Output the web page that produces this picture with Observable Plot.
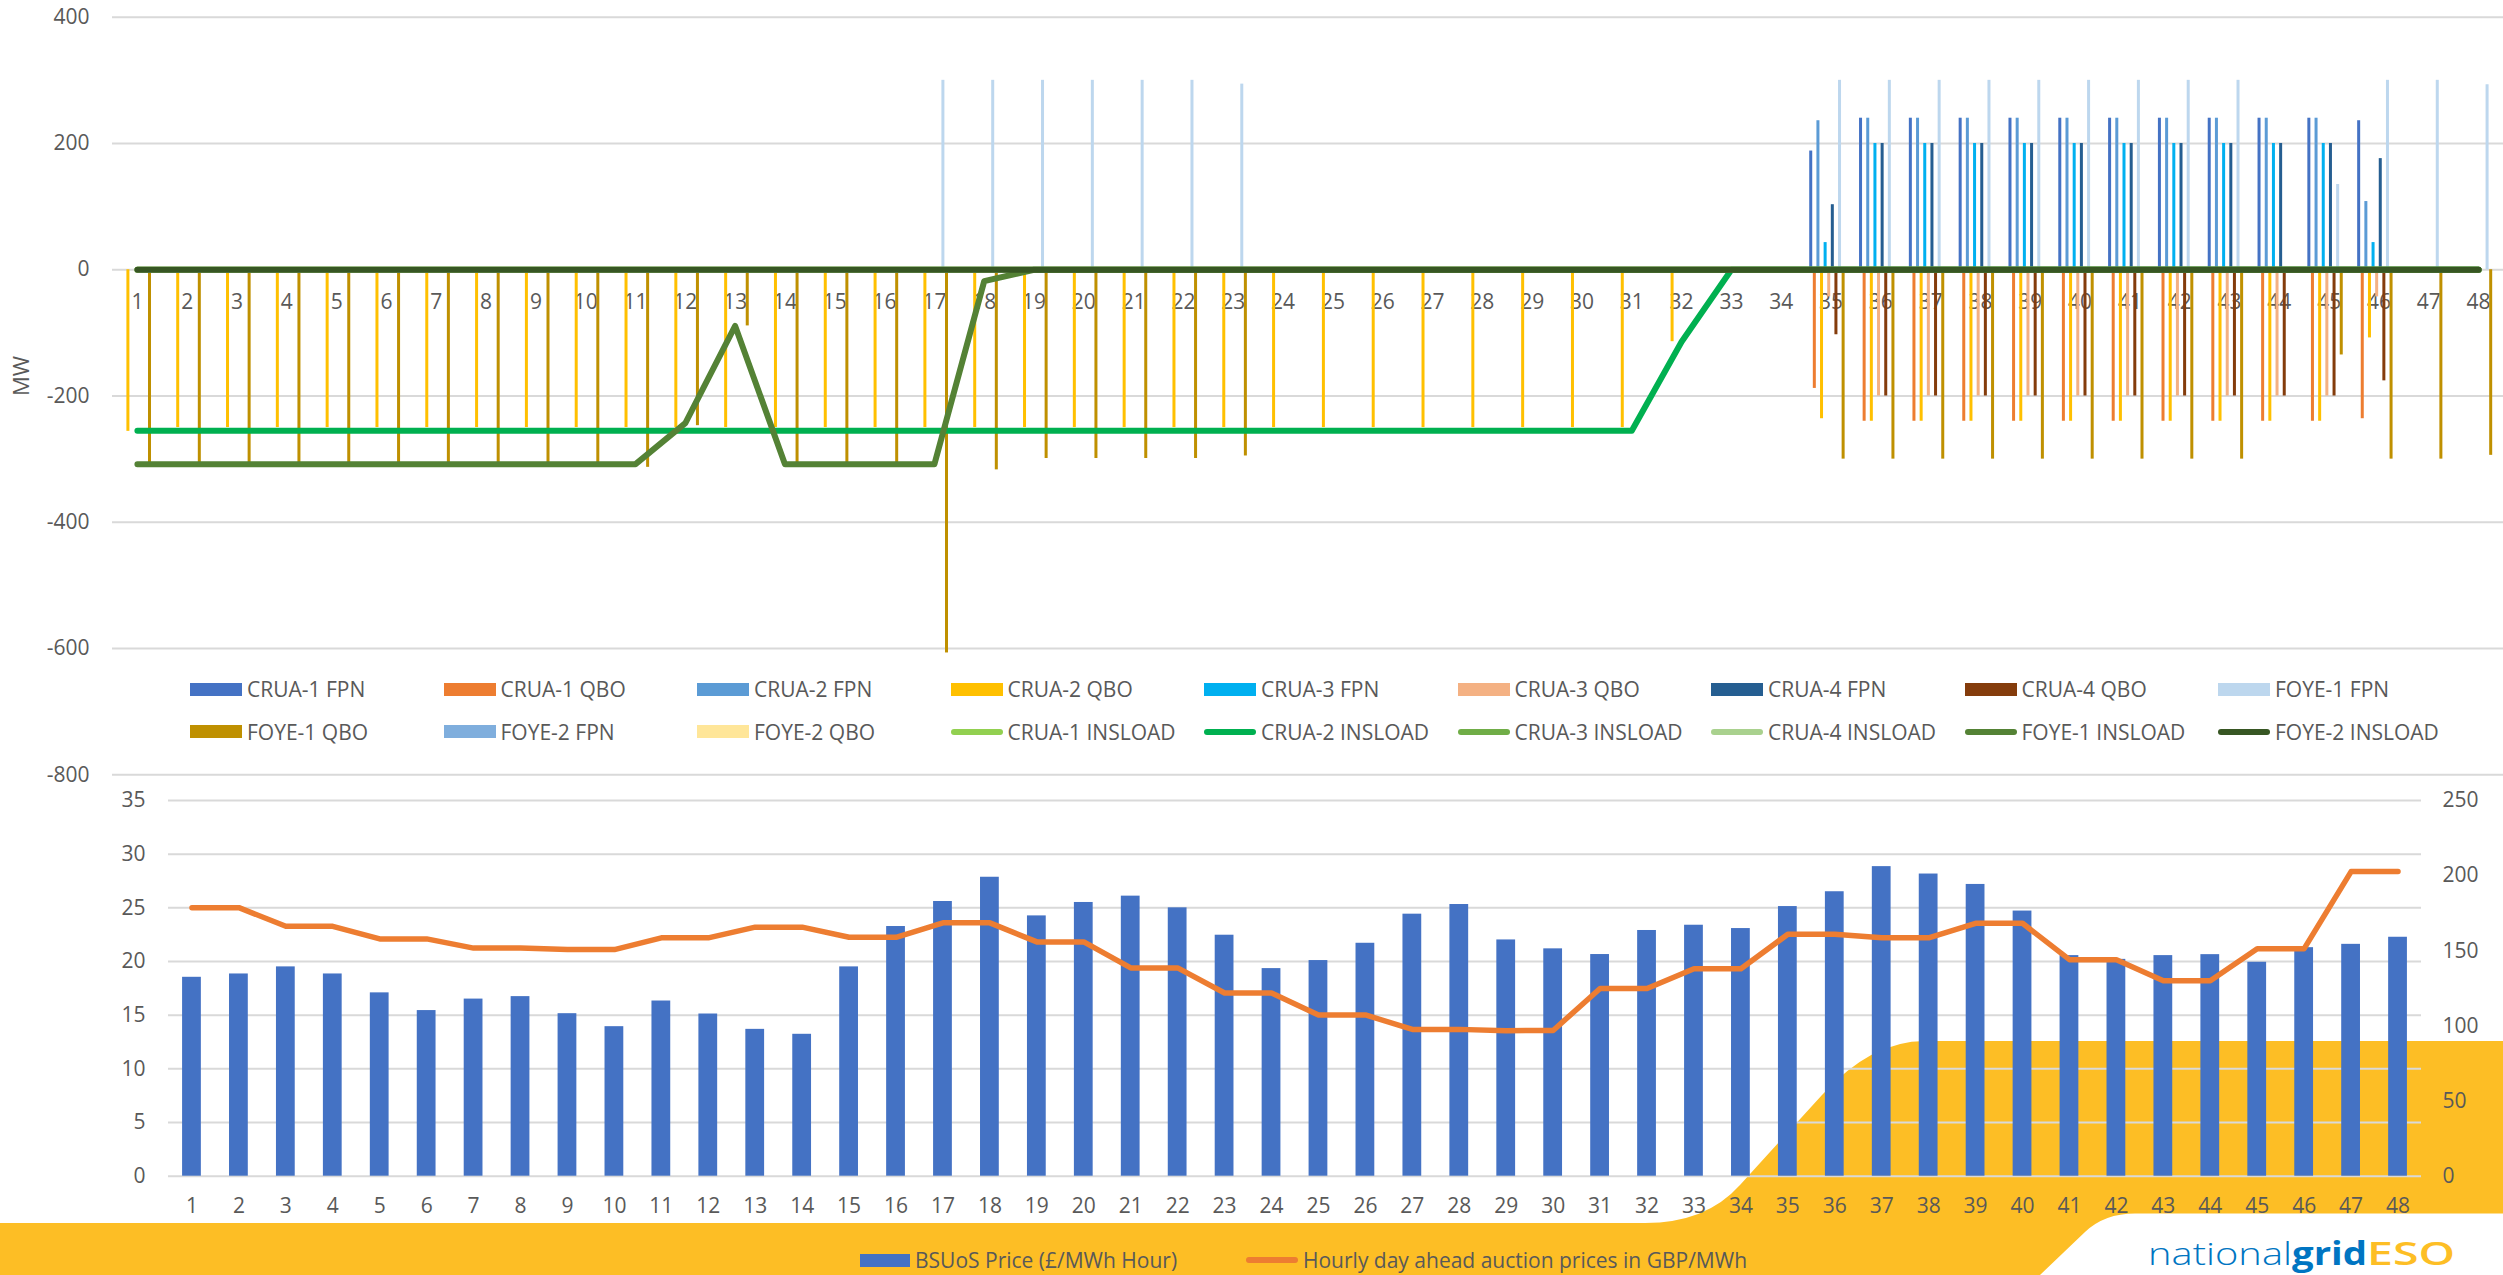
<!DOCTYPE html>
<html><head><meta charset="utf-8">
<script src="https://cdn.jsdelivr.net/npm/d3@7"></script>
<script src="https://cdn.jsdelivr.net/npm/@observablehq/plot@0.6"></script>
<style>
html,body{margin:0;padding:0;background:#fff;}
#root{position:relative;width:2503px;height:1275px;overflow:hidden;font-family:"Open Sans",sans-serif;}
#root svg{position:absolute;left:0;}
.leg{position:absolute;height:30px;display:flex;align-items:center;font-size:21px;color:#595959;white-space:nowrap;line-height:30px;}
.leg .sw{flex:none;margin-right:5px;}
</style></head><body><div id="root"></div>
<script>
// ---------- categories & ticks ----------
const periods = [1,2,3,4,5,6,7,8,9,10,11,12,13,14,15,16,17,18,19,20,21,22,23,24,25,26,27,28,29,30,31,32,33,34,35,36,37,38,39,40,41,42,43,44,45,46,47,48];
const mwTicks = [-800,-600,-400,-200,0,200,400];
const priceTicks = [0,5,10,15,20,25,30,35];
const dayAheadTicks = [0,50,100,150,200,250];

// ---------- top chart series (MW) ----------
const crua1Fpn = [0,0,0,0,0,0,0,0,0,0,0,0,0,0,0,0,0,0,0,0,0,0,0,0,0,0,0,0,0,0,0,0,0,0,188,240,240,240,240,240,240,240,240,240,240,236,0,0];
const crua1Qbo = [0,0,0,0,0,0,0,0,0,0,0,0,0,0,0,0,0,0,0,0,0,0,0,0,0,0,0,0,0,0,0,0,0,0,-188,-240,-240,-240,-240,-240,-240,-240,-240,-240,-240,-236,0,0];
const crua2Fpn = [0,0,0,0,0,0,0,0,0,0,0,0,0,0,0,0,0,0,0,0,0,0,0,0,0,0,0,0,0,0,0,0,0,0,236,240,240,240,240,240,240,240,240,240,240,108,0,0];
const crua2Qbo = [-256,-250,-250,-250,-250,-250,-250,-250,-250,-250,-250,-250,-250,-250,-250,-250,-250,-250,-250,-250,-250,-250,-250,-250,-250,-250,-250,-250,-250,-250,-250,-114,0,0,-236,-240,-240,-240,-240,-240,-240,-240,-240,-240,-240,-108,0,0];
const crua3Fpn = [0,0,0,0,0,0,0,0,0,0,0,0,0,0,0,0,0,0,0,0,0,0,0,0,0,0,0,0,0,0,0,0,0,0,43,200,200,200,200,200,200,200,200,200,200,43,0,0];
const crua3Qbo = [0,0,0,0,0,0,0,0,0,0,0,0,0,0,0,0,0,0,0,0,0,0,0,0,0,0,0,0,0,0,0,0,0,0,-43,-200,-200,-200,-200,-200,-200,-200,-200,-200,-200,-43,0,0];
const crua4Fpn = [0,0,0,0,0,0,0,0,0,0,0,0,0,0,0,0,0,0,0,0,0,0,0,0,0,0,0,0,0,0,0,0,0,0,103,200,200,200,200,200,200,200,200,200,200,176,0,0];
const crua4Qbo = [0,0,0,0,0,0,0,0,0,0,0,0,0,0,0,0,0,0,0,0,0,0,0,0,0,0,0,0,0,0,0,0,0,0,-103,-200,-200,-200,-200,-200,-200,-200,-200,-200,-200,-176,0,0];
const foye1Fpn = [0,0,0,0,0,0,0,0,0,0,0,0,0,0,0,0,300,300,300,300,300,300,294,0,0,0,0,0,0,0,0,0,0,0,300,300,300,300,300,300,300,300,300,0,135,300,300,293];
const foye1Qbo = [-313,-313,-313,-313,-313,-313,-313,-313,-313,-313,-313,-247,-89,-313,-313,-313,-607,-317,-299,-299,-299,-299,-295,0,0,0,0,0,0,0,0,0,0,0,-300,-300,-300,-300,-300,-300,-300,-300,-300,0,-135,-300,-300,-294];
const foye2Fpn = [0,0,0,0,0,0,0,0,0,0,0,0,0,0,0,0,0,0,0,0,0,0,0,0,0,0,0,0,0,0,0,0,0,0,0,0,0,0,0,0,0,0,0,0,0,0,0,0];
const foye2Qbo = [0,0,0,0,0,0,0,0,0,0,0,0,0,0,0,0,0,0,0,0,0,0,0,0,0,0,0,0,0,0,0,0,0,0,0,0,0,0,0,0,0,0,0,0,0,0,0,0];
const crua1Insload = [0,0,0,0,0,0,0,0,0,0,0,0,0,0,0,0,0,0,0,0,0,0,0,0,0,0,0,0,0,0,0,0,0,0,0,0,0,0,0,0,0,0,0,0,0,0,0,0];
const crua2Insload = [-255,-255,-255,-255,-255,-255,-255,-255,-255,-255,-255,-255,-255,-255,-255,-255,-255,-255,-255,-255,-255,-255,-255,-255,-255,-255,-255,-255,-255,-255,-255,-114,0,0,0,0,0,0,0,0,0,0,0,0,0,0,0,0];
const crua3Insload = [0,0,0,0,0,0,0,0,0,0,0,0,0,0,0,0,0,0,0,0,0,0,0,0,0,0,0,0,0,0,0,0,0,0,0,0,0,0,0,0,0,0,0,0,0,0,0,0];
const crua4Insload = [0,0,0,0,0,0,0,0,0,0,0,0,0,0,0,0,0,0,0,0,0,0,0,0,0,0,0,0,0,0,0,0,0,0,0,0,0,0,0,0,0,0,0,0,0,0,0,0];
const foye1Insload = [-308,-308,-308,-308,-308,-308,-308,-308,-308,-308,-308,-243,-89,-308,-308,-308,-308,-18,0,0,0,0,0,0,0,0,0,0,0,0,0,0,0,0,0,0,0,0,0,0,0,0,0,0,0,0,0,0];
const foye2Insload = [0,0,0,0,0,0,0,0,0,0,0,0,0,0,0,0,0,0,0,0,0,0,0,0,0,0,0,0,0,0,0,0,0,0,0,0,0,0,0,0,0,0,0,0,0,0,0,0];

// ---------- bottom chart series ----------
const bsuosPrice = [18.53,18.84,19.5,18.84,17.08,15.43,16.5,16.73,15.14,13.93,16.32,15.11,13.68,13.22,19.5,23.26,25.59,27.85,24.25,25.5,26.09,25.0,22.45,19.34,20.09,21.7,24.41,25.31,22.01,21.18,20.65,22.89,23.38,23.07,25.12,26.5,28.84,28.15,27.18,24.7,20.55,20.2,20.55,20.64,19.93,21.29,21.6,22.26];
const dayAheadPrice = [178.7,178.7,166.3,166.3,157.9,157.9,151.8,151.8,150.8,150.8,158.6,158.6,165.7,165.7,159.0,159.0,168.6,168.6,155.9,155.9,138.6,138.6,121.9,121.9,107.3,107.3,97.7,97.7,96.8,97.0,124.9,124.9,138.0,138.0,161.0,161.0,158.6,158.6,168.3,168.3,144.1,144.1,130.0,130.0,151.4,151.4,202.7,202.7];

// ---------- series metadata ----------
const barSeries = [
  {name:"CRUA-1 FPN", color:"#4472C4", values:crua1Fpn},
  {name:"CRUA-1 QBO", color:"#ED7D31", values:crua1Qbo},
  {name:"CRUA-2 FPN", color:"#5B9BD5", values:crua2Fpn},
  {name:"CRUA-2 QBO", color:"#FFC000", values:crua2Qbo},
  {name:"CRUA-3 FPN", color:"#00B0F0", values:crua3Fpn},
  {name:"CRUA-3 QBO", color:"#F4B183", values:crua3Qbo},
  {name:"CRUA-4 FPN", color:"#255E91", values:crua4Fpn},
  {name:"CRUA-4 QBO", color:"#843C0C", values:crua4Qbo},
  {name:"FOYE-1 FPN", color:"#BDD7EE", values:foye1Fpn},
  {name:"FOYE-1 QBO", color:"#BF9000", values:foye1Qbo},
  {name:"FOYE-2 FPN", color:"#7FAEDD", values:foye2Fpn},
  {name:"FOYE-2 QBO", color:"#FFE699", values:foye2Qbo}
];
const lineSeries = [
  {name:"CRUA-1 INSLOAD", color:"#92D050", values:crua1Insload},
  {name:"CRUA-2 INSLOAD", color:"#00B050", values:crua2Insload},
  {name:"CRUA-3 INSLOAD", color:"#70AD47", values:crua3Insload},
  {name:"CRUA-4 INSLOAD", color:"#A9D18E", values:crua4Insload},
  {name:"FOYE-1 INSLOAD", color:"#548235", values:foye1Insload},
  {name:"FOYE-2 INSLOAD", color:"#375623", values:foye2Insload}
];

const W = 2503;
const root = document.getElementById("root");
const table = vals => periods.map((p, i) => ({period: p, value: vals[i]}));
const textColor = "#595959";
const yellow = "#FDBE25";

// ---------- decorative background (slide template) ----------
const ns = "http://www.w3.org/2000/svg";
const deco = document.createElementNS(ns, "svg");
deco.setAttribute("width", W); deco.setAttribute("height", 1275);
deco.style.top = "0px";
deco.innerHTML = `
  <path fill="${yellow}" d="M0,1223 L1645,1223 Q1706,1223 1740,1185 L1822,1095 Q1871,1041 1925,1041 L2503,1041 L2503,1213.5 L2135,1213.5 Q2104.5,1213.5 2085,1232 L2040,1275 L0,1275 Z"/>
  <text x="2148" y="1265" font-family="Open Sans" font-size="32" font-weight="300" fill="#0075C2" textLength="144" lengthAdjust="spacingAndGlyphs">national</text>
  <text x="2292" y="1265" font-family="Open Sans" font-size="32" font-weight="700" fill="#0075C2" textLength="75" lengthAdjust="spacingAndGlyphs">grid</text>
  <text x="2367" y="1265" font-family="Open Sans" font-size="32" font-weight="600" fill="${yellow}" textLength="88" lengthAdjust="spacingAndGlyphs">ESO</text>`;
root.appendChild(deco);

// ---------- top chart ----------
const step = (W - 112) / 48;
const topChart = Plot.plot({
  width: W, height: 780,
  marginLeft: 112, marginRight: 0, marginTop: 16.7, marginBottom: 5.7,
  style: {background: "transparent", overflow: "visible", color: textColor, fontFamily: "Open Sans"},
  x: {type: "band", domain: periods, padding: 0, axis: null},
  y: {domain: [-800, 400], axis: null},
  marks: [
    Plot.gridY(mwTicks, {stroke: "#D9D9D9", strokeOpacity: 1, strokeWidth: 2}),
    Plot.axisY(mwTicks, {tickSize: 0, tickPadding: 23, fontSize: 21, tickFormat: d => String(d), label: null}),
    Plot.text(["MW"], {text: d => d, frameAnchor: "left", dx: -91, rotate: -90, fontSize: 22, fill: textColor}),
    Plot.text(periods, {x: d => d, y: () => 0, text: d => String(d), dy: 33, fontSize: 21, fill: textColor}),
    ...barSeries.map((s, i) => Plot.barY(table(s.values).filter(d => d.value !== 0), {
      x: "period", y: "value", fill: s.color,
      insetLeft: 3.3 + 3.6 * i + 0.3,
      insetRight: step - (3.3 + 3.6 * (i + 1)) + 0.3
    })),
    ...lineSeries.map(s => Plot.lineY(table(s.values), {
      x: "period", y: "value", stroke: s.color, strokeWidth: 6,
      strokeLinecap: "round", strokeLinejoin: "round"
    }))
  ]
});
topChart.style.top = "0px";
root.appendChild(topChart);

// ---------- bottom chart ----------
const bottomDims = {width: W, height: 495, marginLeft: 168, marginRight: 82, marginTop: 20, marginBottom: 99.3};
const bottomX = {type: "band", domain: periods, paddingInner: 0.6, paddingOuter: 0.3, axis: null};
const bottomBars = Plot.plot({
  ...bottomDims,
  style: {background: "transparent", overflow: "visible", color: textColor, fontFamily: "Open Sans"},
  x: bottomX,
  y: {domain: [0, 35], axis: null},
  marks: [
    Plot.gridY(priceTicks, {stroke: "#D9D9D9", strokeOpacity: 1, strokeWidth: 2}),
    Plot.axisY(priceTicks, {tickSize: 0, tickPadding: 23, fontSize: 21, tickFormat: d => String(d), label: null}),
    Plot.axisX(periods, {tickSize: 0, tickPadding: 22, fontSize: 21, tickFormat: d => String(d), label: null}),
    Plot.barY(table(bsuosPrice), {x: "period", y: "value", fill: "#4472C4"})
  ]
});
bottomBars.style.top = "780px";
root.appendChild(bottomBars);

const bottomLine = Plot.plot({
  ...bottomDims,
  style: {background: "transparent", overflow: "visible", color: textColor, fontFamily: "Open Sans"},
  x: bottomX,
  y: {domain: [0, 250], axis: null},
  marks: [
    Plot.axisY(dayAheadTicks, {anchor: "right", tickSize: 0, tickPadding: 21, fontSize: 21, tickFormat: d => String(d), label: null}),
    Plot.lineY(table(dayAheadPrice), {x: "period", y: "value", stroke: "#ED7D31", strokeWidth: 5.5, strokeLinecap: "round", strokeLinejoin: "round"})
  ]
});
bottomLine.style.top = "780px";
root.appendChild(bottomLine);

// ---------- legends ----------
function legendItem(left, cy, name, color, kind, sw) {
  const d = document.createElement("div");
  d.className = "leg";
  d.style.left = left + "px";
  d.style.top = (cy - 15) + "px";
  const s = document.createElement("span");
  s.className = "sw";
  s.style.background = color;
  s.style.width = sw + "px";
  if (kind === "line") { s.style.height = "6px"; s.style.borderRadius = "3px"; }
  else { s.style.height = "13px"; }
  d.appendChild(s);
  const t = document.createElement("span");
  t.textContent = name;
  d.appendChild(t);
  root.appendChild(d);
}
const topLegend = [...barSeries.map(s => ({...s, kind: "bar"})), ...lineSeries.map(s => ({...s, kind: "line"}))];
topLegend.forEach((s, k) => {
  const col = k % 9, row = Math.floor(k / 9);
  legendItem(190 + 253.5 * col, 689 + 42.5 * row, s.name, s.color, s.kind, 52);
});
legendItem(860, 1260, "BSUoS Price (£/MWh Hour)", "#4472C4", "bar", 50);
legendItem(1246, 1260, "Hourly day ahead auction prices in GBP/MWh", "#ED7D31", "line", 52);
</script>
</body></html>
